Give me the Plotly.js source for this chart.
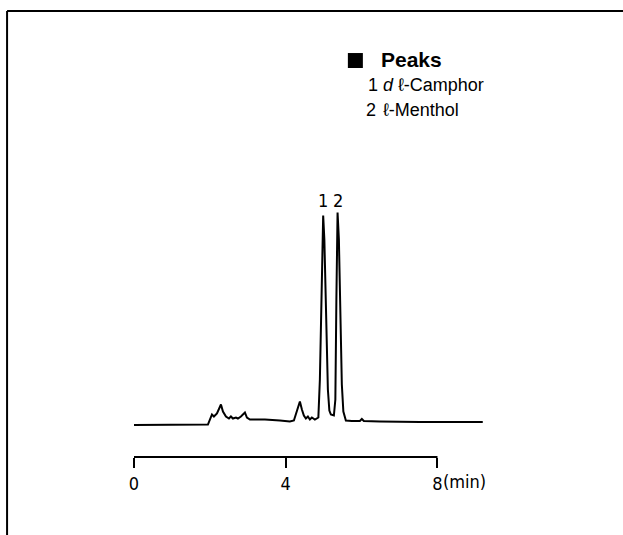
<!DOCTYPE html>
<html>
<head>
<meta charset="utf-8">
<script src="https://cdn.plot.ly/plotly-3.0.1.min.js"></script>
<style>html,body{margin:0;padding:0;background:#fff;}#chart{width:623px;height:535px;}</style>
</head>
<body>
<div id="chart"></div>
<script>
// Retention time (min)
const timeMin = [0, 1.212, 1.949, 2.055, 2.107, 2.187, 2.292, 2.345, 2.424, 2.503, 2.555, 2.608, 2.687, 2.740, 2.819, 2.924, 2.977, 3.056, 3.451, 3.846, 4.110, 4.215, 4.294, 4.373, 4.426, 4.478, 4.531, 4.584, 4.636, 4.689, 4.768, 4.821, 4.860, 4.900, 4.939, 4.987, 5.018, 5.058, 5.111, 5.150, 5.190, 5.269, 5.308, 5.335, 5.366, 5.401, 5.440, 5.479, 5.519, 5.585, 5.743, 5.954, 6.006, 6.059, 6.480, 7.534, 9.194];
// Detector response (arbitrary units)
const signal = [0, 0, 0.5, 10.5, 8.5, 11.5, 20.5, 13.5, 8.5, 6.5, 8.5, 6.5, 7.5, 6.5, 8.5, 12.5, 7.5, 5.5, 5.5, 4.5, 3.5, 4.5, 13.5, 23.5, 15.5, 9.5, 6.5, 8.5, 5.5, 7.5, 5.5, 6.5, 7.5, 45.5, 125.5, 209.5, 185.5, 105.5, 35.5, 14.5, 10.5, 9.5, 25.5, 125.5, 212.5, 185.5, 105.5, 40.5, 13.5, 4.5, 4, 4, 6, 4, 3.5, 3, 3];
// Peaks
const peakIds = ['1', '2'];
const peakTimes = [4.987, 5.366];
const peakNames = ['<i>d</i> \u2113-Camphor', '\u2113-Menthol'];
const legendTitle = 'Peaks';
const axisTicks = [0, 4, 8];
const axisTickText = ['0', '4', '8'];
const axisUnit = '(min)';

const narrow = '"Liberation Sans Narrow", "DejaVu Sans Condensed", "Liberation Sans", sans-serif';
const sans = '"Liberation Sans", Arial, sans-serif';

const trace = {
  x: timeMin, y: signal, type: 'scatter', mode: 'lines',
  line: {color: '#000', width: 2}, hoverinfo: 'skip', showlegend: false
};

const annotations = [];
peakIds.forEach((id, i) => {
  annotations.push({x: peakTimes[i], y: 225, xref: 'x', yref: 'y', text: id, showarrow: false,
    font: {family: narrow, size: 18, color: '#000'}, xanchor: 'center', yanchor: 'middle'});
});
annotations.push({x: 8, y: -0.0936, xref: 'x', yref: 'paper', text: axisUnit, showarrow: false, xanchor: 'left', yanchor: 'middle', xshift: 4,
  font: {family: narrow, size: 18, color: '#000'}});
// Legend block
annotations.push({x: 0.702, y: 1.487, xref: 'paper', yref: 'paper', text: '<b>' + legendTitle + '</b>', showarrow: false, xanchor: 'left', yanchor: 'middle',
  font: {family: sans, size: 21, color: '#000'}});
const rowY = [1.393, 1.300];
const numX = [0.666, 0.660];
peakIds.forEach((id, i) => {
  annotations.push({x: numX[i], y: rowY[i], xref: 'paper', yref: 'paper', text: id, showarrow: false,
    xanchor: 'left', yanchor: 'middle', font: {family: sans, size: 18, color: '#000'}});
  annotations.push({x: 0.709, y: rowY[i], xref: 'paper', yref: 'paper', text: peakNames[i], showarrow: false,
    xanchor: 'left', yanchor: 'middle', font: {family: sans, size: 18, color: '#000'}});
});

const shapes = [
  // legend marker
  {type: 'rect', xref: 'paper', yref: 'paper', x0: 0.6128, x1: 0.6558, y0: 1.457, y1: 1.513, line: {width: 0}, fillcolor: '#000'},
  // time ruler
  {type: 'line', xref: 'x', yref: 'paper', x0: 0, x1: 8, y0: 0, y1: 0, line: {color: '#000', width: 2}},
  // page frame (left and top edges)
  {type: 'line', xref: 'paper', yref: 'paper', x0: -0.3637, x1: -0.3637, y0: -0.3, y1: 1.670, line: {color: '#000', width: 2}},
  {type: 'line', xref: 'paper', yref: 'paper', x0: -0.3637, x1: 1.41, y0: 1.670, y1: 1.670, line: {color: '#000', width: 2}}
];

const layout = {
  width: 623, height: 535,
  margin: {l: 134, r: 139.8, t: 190, b: 78, pad: 0},
  paper_bgcolor: '#fff', plot_bgcolor: '#fff',
  showlegend: false,
  xaxis: {range: [0, 9.2], showgrid: false, zeroline: false, showline: false,
    tickvals: axisTicks, ticktext: axisTickText, ticks: 'outside', ticklen: 10, tickwidth: 2, tickcolor: '#000',
    tickfont: {family: narrow, size: 18, color: '#000'}, fixedrange: true},
  yaxis: {range: [-32, 235], visible: false, fixedrange: true},
  annotations: annotations,
  shapes: shapes
};

Plotly.newPlot('chart', [trace], layout, {staticPlot: true, displayModeBar: false});
</script>
</body>
</html>
